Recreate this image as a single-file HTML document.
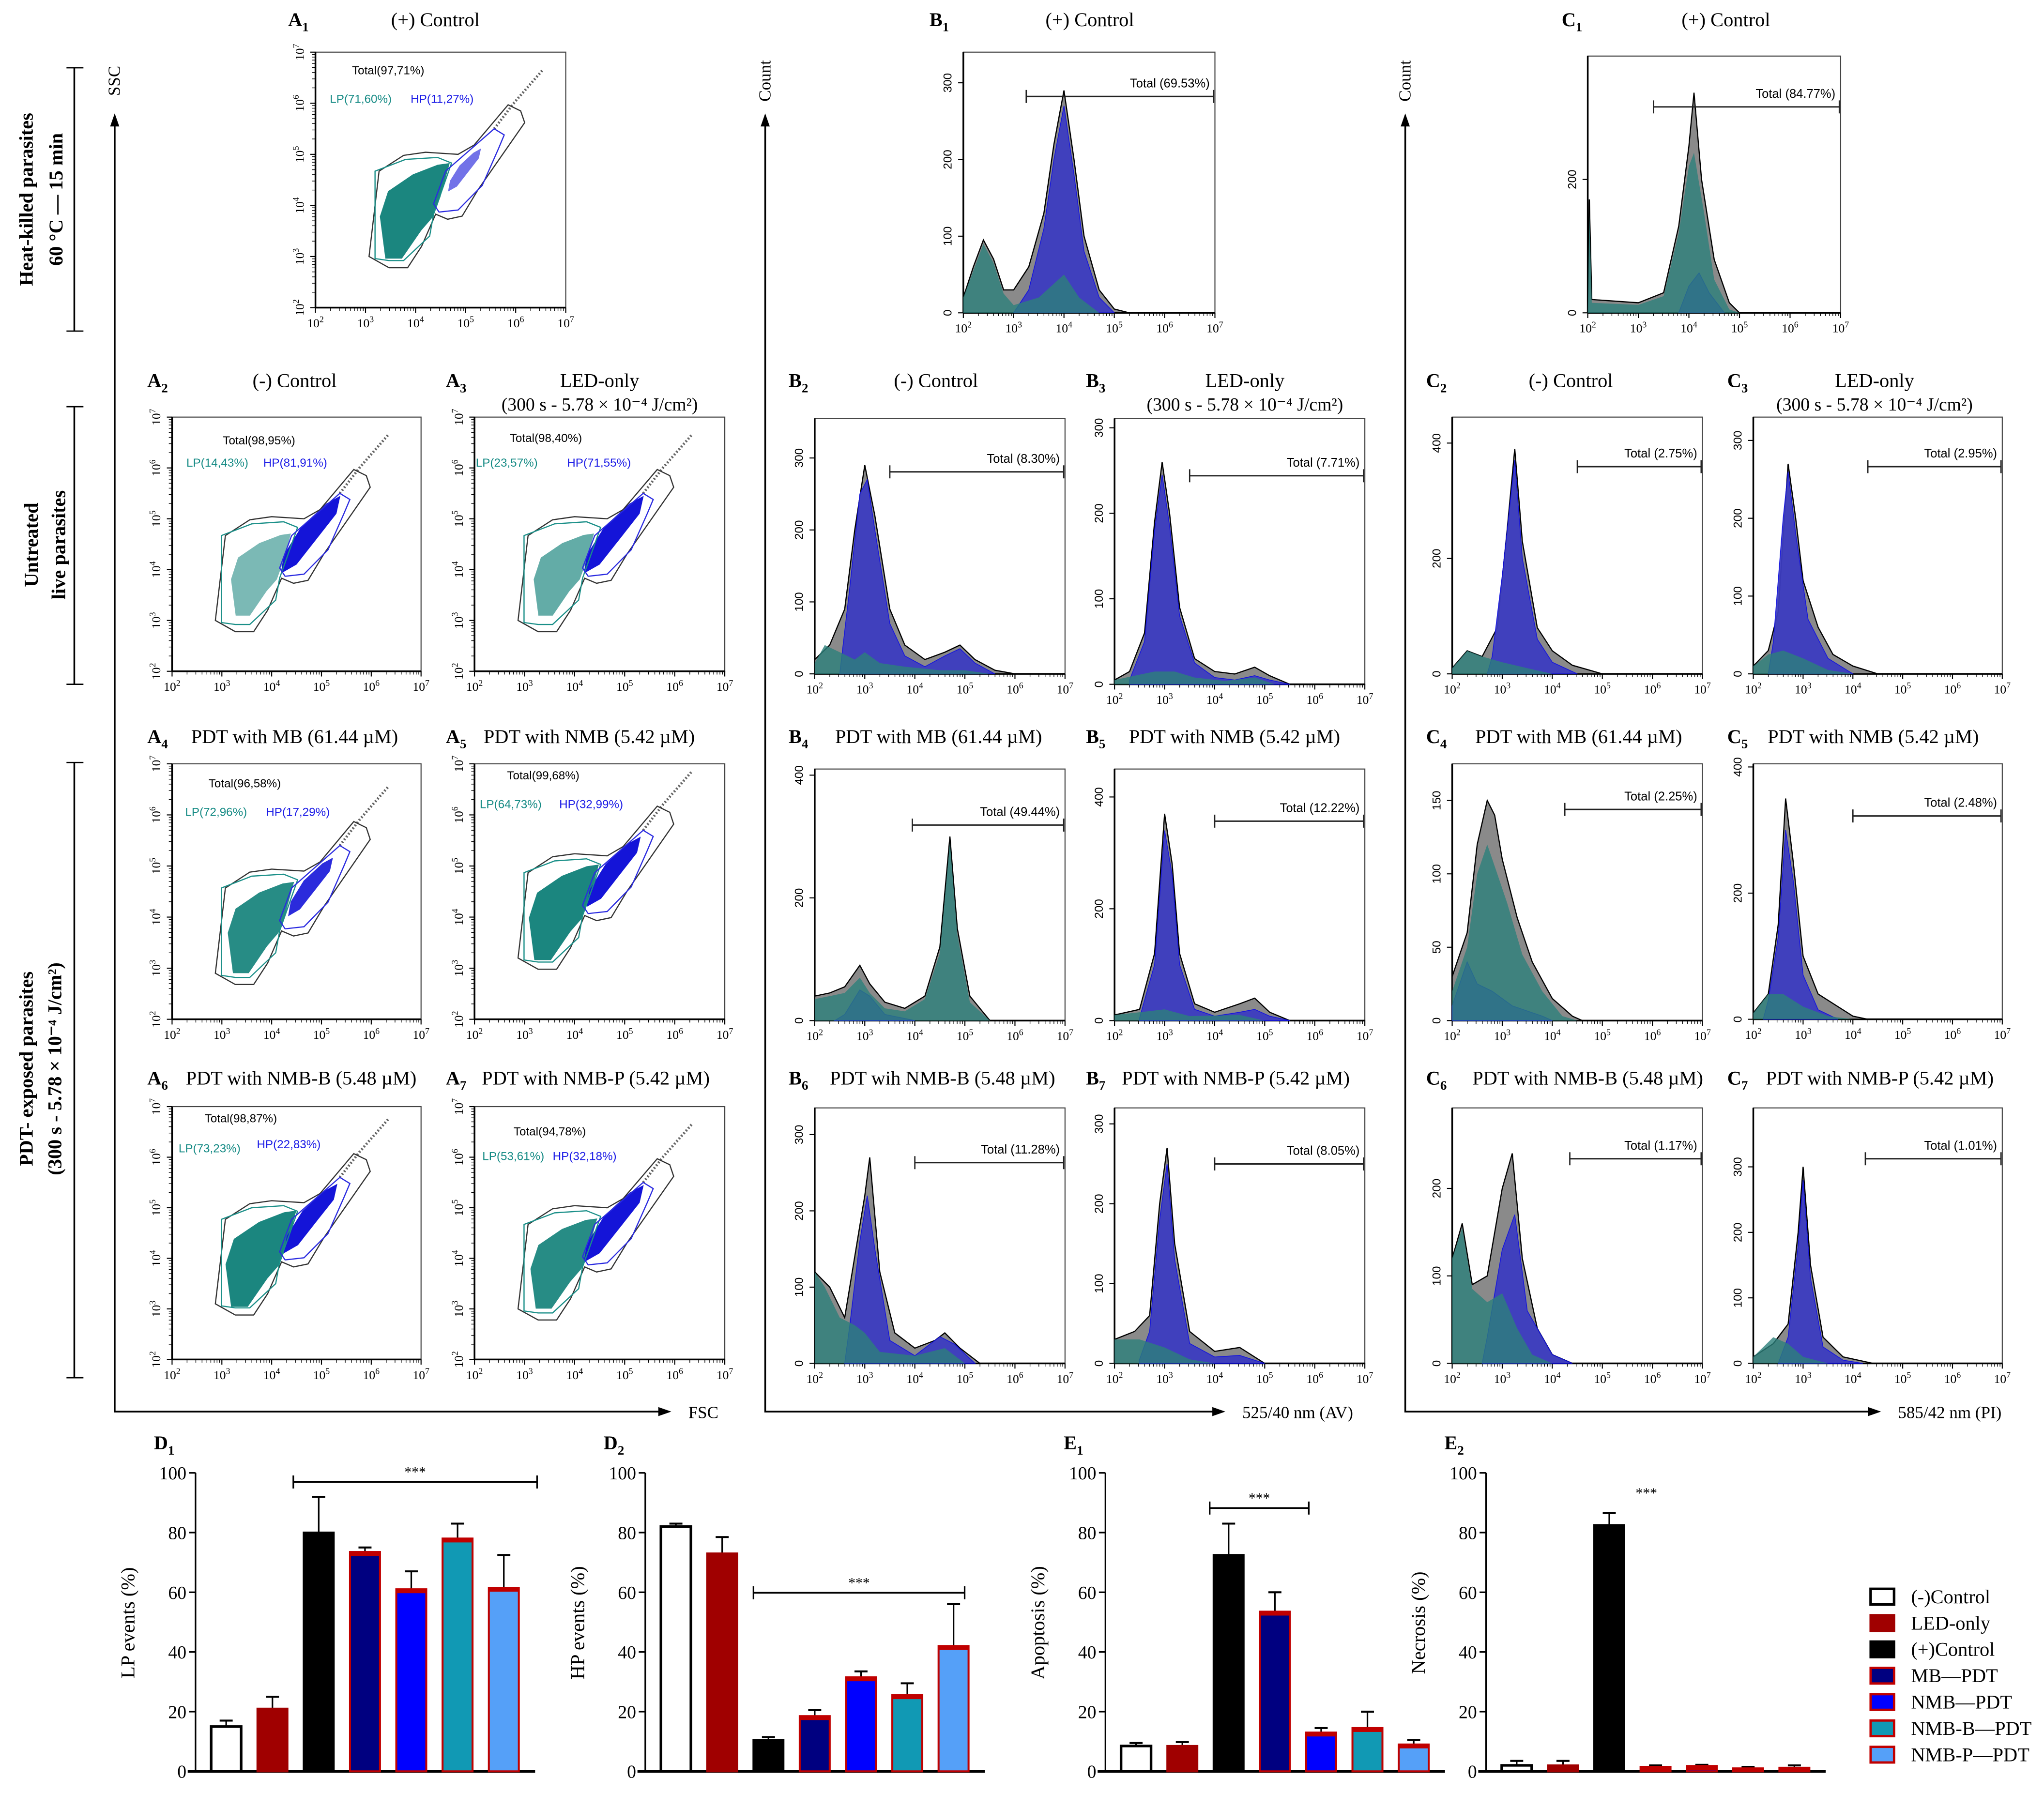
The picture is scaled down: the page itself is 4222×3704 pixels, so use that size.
<!DOCTYPE html>
<html><head><meta charset="utf-8"><style>
html,body{margin:0;padding:0;background:#fff;width:4222px;height:3704px;overflow:hidden}
svg{display:block}
.serif{font-family:"Liberation Serif",serif}
.sans{font-family:"Liberation Sans",sans-serif}
</style></head><body>
<svg id="fig" width="4222" height="3704" viewBox="0 0 1568 1375.6" xmlns="http://www.w3.org/2000/svg">
<rect x="0" y="0" width="1568" height="1376" fill="#fff"/>
</svg>
<script>
// ---------------- DATA ----------------
const barCategories = ["(-)Control","LED-only","(+)Control","MB\u2014PDT","NMB\u2014PDT","NMB-B\u2014PDT","NMB-P\u2014PDT"];
const lpValues = [15,21,80,73.5,61,78,61.5];
const lpErrTop = [17,25,92,75,67,83,72.5];
const hpValues = [82,73,10.5,18.5,31.5,25.5,42];
const hpErrTop = [83,78.5,11.5,20.5,33.5,29.5,56];
const apoValues = [8.5,8.5,72.5,53.5,13,14.5,9];
const apoErrTop = [9.5,9.8,83,60,14.5,20,10.5];
const necValues = [2,2,82.5,1.5,1.8,1,1.2];
const necErrTop = [3.5,3.5,86.5,2,2.2,1.5,2];
const barTicks = [0,20,40,60,80,100];

// histogram series: [log10 value, count]
const hB1g=[[2,20],[2.2,60],[2.4,95],[2.6,70],[2.8,30],[3,30],[3.3,60],[3.6,130],[3.8,220],[4,290],[4.2,200],[4.4,100],[4.7,30],[5,5],[5.3,0]];
const hB1b=[[3,0],[3.3,30],[3.6,110],[3.8,200],[4,270],[4.2,180],[4.4,80],[4.7,20],[5,0]];
const hB1t=[[2,20],[2.2,55],[2.4,90],[2.6,65],[2.8,25],[3,10],[3.5,20],[4,50],[4.3,20],[4.7,0]];
const hB2g=[[2,20],[2.3,40],[2.6,90],[2.8,200],[3,290],[3.2,220],[3.5,90],[3.8,40],[4.2,20],[4.6,30],[4.9,40],[5.2,20],[5.6,5],[6,0]];
const hB2b=[[2.5,0],[2.7,120],[2.9,250],[3.05,270],[3.2,200],[3.5,70],[3.8,25],[4.2,10],[4.6,25],[4.9,35],[5.2,15],[5.6,0]];
const hB2t=[[2,15],[2.2,40],[2.5,30],[2.8,20],[3,30],[3.3,15],[3.8,10],[4.5,5],[5,5],[5.5,0]];
const hB3g=[[2,5],[2.3,15],[2.6,60],[2.8,190],[2.95,260],[3.1,200],[3.3,90],[3.6,30],[4,15],[4.4,12],[4.8,20],[5.1,10],[5.5,0]];
const hB3b=[[2.3,5],[2.6,50],[2.8,180],[2.95,245],[3.1,185],[3.3,80],[3.6,25],[4,8],[4.4,5],[4.8,10],[5.1,5],[5.5,0]];
const hB3t=[[2,5],[2.4,10],[2.8,15],[3.2,15],[3.6,8],[4.2,4],[4.8,8],[5.2,0]];
const hB4g=[[2,40],[2.3,45],[2.6,55],[2.9,90],[3.1,60],[3.4,30],[3.8,20],[4.2,40],[4.5,120],[4.7,300],[4.85,150],[5.1,40],[5.5,0]];
const hB4t=[[2,35],[2.3,40],[2.6,45],[2.9,70],[3.1,45],[3.4,20],[3.8,15],[4.2,35],[4.5,110],[4.7,290],[4.85,140],[5.1,30],[5.5,0]];
const hB4b=[[2.4,0],[2.6,10],[2.9,50],[3.1,40],[3.4,10],[4,0]];
const hB5g=[[2,10],[2.5,20],[2.8,120],[3,370],[3.15,280],[3.3,120],[3.6,30],[4,15],[4.5,30],[4.8,40],[5.1,15],[5.5,0]];
const hB5b=[[2.5,5],[2.8,100],[3,340],[3.15,260],[3.3,100],[3.6,20],[4,8],[4.5,15],[4.8,20],[5.1,8],[5.5,0]];
const hB5t=[[2,10],[2.5,15],[3,20],[3.5,8],[4.5,10],[5,0]];
const hB6g=[[2,120],[2.3,100],[2.6,60],[2.8,140],[3,220],[3.1,270],[3.3,120],[3.6,40],[4,20],[4.4,30],[4.6,40],[4.9,20],[5.3,0]];
const hB6b=[[2.6,0],[2.7,50],[2.9,160],[3.05,220],[3.2,150],[3.5,30],[4,10],[4.5,35],[4.8,25],[5.2,0]];
const hB6t=[[2,120],[2.2,100],[2.5,60],[2.8,50],[3,40],[3.3,15],[4,10],[4.6,20],[5,0]];
const hB7g=[[2,30],[2.4,40],[2.7,60],[2.9,200],[3.05,270],[3.2,150],[3.5,40],[4,15],[4.5,20],[5,0]];
const hB7b=[[2.5,5],[2.7,40],[2.9,180],[3.05,250],[3.2,130],[3.5,25],[4,8],[4.5,10],[5,0]];
const hB7t=[[2,30],[2.5,30],[3,20],[3.5,5],[4,0]];
const hC1g=[[2,0],[2.03,170],[2.08,20],[3,15],[3.5,30],[3.8,130],[4,250],[4.1,330],[4.25,200],[4.5,80],[4.8,15],[5,0]];
const hC1t=[[2,0],[2.03,150],[2.08,15],[3,12],[3.5,25],[3.8,120],[4,220],[4.1,240],[4.3,150],[4.5,50],[4.8,5],[5,0]];
const hC1b=[[3.8,0],[4,40],[4.2,60],[4.4,30],[4.7,0]];
const hC2g=[[2,10],[2.3,40],[2.6,30],[2.9,80],[3.1,250],[3.25,390],[3.4,230],[3.7,80],[4,40],[4.4,15],[5,0]];
const hC2b=[[2.7,0],[2.8,30],[3,170],[3.25,370],[3.4,200],[3.7,60],[4,20],[4.5,0]];
const hC2t=[[2,10],[2.3,40],[2.6,30],[3,20],[3.5,10],[4,0]];
const hC3g=[[2,10],[2.3,30],[2.5,80],[2.7,270],[2.85,200],[3,120],[3.3,60],[3.6,25],[4,10],[4.5,0]];
const hC3b=[[2.3,0],[2.4,40],[2.6,200],[2.7,260],[2.85,180],[3.1,70],[3.5,20],[4,0]];
const hC3t=[[2,10],[2.3,25],[2.6,30],[3,20],[3.5,5],[4,0]];
const hC4g=[[2,30],[2.3,60],[2.5,120],[2.7,150],[2.85,140],[3,110],[3.3,70],[3.6,40],[4,15],[4.4,3],[4.6,0]];
const hC4t=[[2,20],[2.3,50],[2.5,100],[2.7,120],[2.9,100],[3.1,80],[3.4,45],[3.8,20],[4.2,3],[4.5,0]];
const hC4b=[[2,10],[2.3,40],[2.5,25],[2.8,20],[3.2,10],[3.8,3],[4,0]];
const hC5g=[[2,10],[2.3,40],[2.5,150],[2.65,350],[2.8,250],[3,100],[3.3,40],[3.7,20],[4,5],[4.3,0]];
const hC5b=[[2.2,0],[2.3,30],[2.5,130],[2.65,300],[2.8,220],[3,70],[3.3,15],[3.7,0]];
const hC5t=[[2,10],[2.3,40],[2.6,40],[3,20],[3.5,5],[4,0]];
const hC6g=[[2,120],[2.2,160],[2.4,90],[2.7,100],[3,200],[3.2,240],[3.4,120],[3.7,40],[4,10],[4.4,0]];
const hC6b=[[2.6,0],[2.7,30],[3,130],[3.25,170],[3.5,60],[4,10],[4.4,0]];
const hC6t=[[2,120],[2.2,155],[2.4,85],[2.7,70],[3,80],[3.3,40],[3.6,10],[4,0]];
const hC7g=[[2,10],[2.4,30],[2.7,60],[2.9,200],[3,300],[3.15,150],[3.4,40],[3.8,10],[4.4,0]];
const hC7b=[[2.5,0],[2.7,40],[2.9,180],[3,280],[3.15,130],[3.4,25],[3.8,5],[4.2,0]];
const hC7t=[[2,10],[2.4,40],[2.7,30],[3,10],[3.5,0]];

// ---------------- HELPERS ----------------
const NS="http://www.w3.org/2000/svg";
const fig=document.getElementById('fig');
function el(tag,attrs,parent){const e=document.createElementNS(NS,tag);for(const k in attrs)e.setAttribute(k,attrs[k]);(parent||fig).appendChild(e);return e;}
function txt(x,y,s,size,opts,parent){opts=opts||{};const t=el('text',{x:x,y:y,'font-size':size,'text-anchor':opts.anchor||'start',fill:opts.fill||'#000','font-weight':opts.bold?'bold':'normal',class:opts.cls||'serif'},parent);if(opts.rot)t.setAttribute('transform','rotate('+opts.rot+' '+x+' '+y+')');t.textContent=s;return t;}
function pow10(x,y,e,size,anchor,parent,rot){const t=el('text',{x:x,y:y,'font-size':size,'text-anchor':anchor||'middle',class:'serif'},parent);if(rot)t.setAttribute('transform','rotate('+rot+' '+x+' '+y+')');t.appendChild(document.createTextNode('10'));const s=el('tspan',{dy:-size*0.4,'font-size':size*0.7},t);s.textContent=e;return t;}
function panelLabel(x,y,letter,sub,parent){const t=el('text',{x:x,y:y,'font-size':15,'font-weight':'bold',class:'serif'},parent);t.appendChild(document.createTextNode(letter));const s=el('tspan',{dy:4,'font-size':10},t);s.textContent=sub;return t;}
function logX(box,d){return box.x+(d-2)/5*box.w;}
function xLogAxis(box,g){
  el('line',{x1:box.x,y1:box.y+box.h,x2:box.x+box.w,y2:box.y+box.h,stroke:'#000','stroke-width':1.3},g);
  for(let d=2;d<=7;d++){const x=logX(box,d);el('line',{x1:x,y1:box.y+box.h,x2:x,y2:box.y+box.h+4,stroke:'#000','stroke-width':0.8},g);pow10(x,box.y+box.h+15,String(d),9.5,'middle',g);
    if(d<7)for(let m=2;m<10;m++){const xm=box.x+((d-2)+Math.log10(m))/5*box.w;el('line',{x1:xm,y1:box.y+box.h,x2:xm,y2:box.y+box.h+2.5,stroke:'#000','stroke-width':0.5},g);}}
}
function boxFrame(box,g){el('rect',{x:box.x,y:box.y,width:box.w,height:box.h,fill:'none',stroke:'#444','stroke-width':0.8},g);el('line',{x1:box.x,y1:box.y,x2:box.x,y2:box.y+box.h,stroke:'#000','stroke-width':1.3},g);}

// ---------------- SCATTER PANELS ----------------
const outerGate=[[0.87,1.0],[1.07,2.67],[1.56,2.98],[2.0,3.04],[2.65,3.0],[2.97,3.18],[3.65,3.97],[3.9,3.85],[3.98,3.62],[3.05,2.31],[2.73,1.79],[2.44,1.73],[2.2,1.83],[1.92,1.2],[1.64,0.78],[1.27,0.78]];
const tealGate=[[0.99,0.96],[0.99,2.67],[1.6,2.9],[2.24,2.94],[2.52,2.83],[2.16,1.83],[2.08,1.4],[1.56,0.92],[1.27,0.92]];
const blueGate=[[2.16,2.03],[2.4,2.67],[3.37,3.5],[3.57,3.38],[3.45,3.1],[3.13,2.39],[2.65,1.91],[2.27,1.87]];
const tealCloud=[[1.25,1.05],[1.15,1.8],[1.3,2.25],[1.75,2.55],[2.2,2.72],[2.42,2.75],[2.25,2.15],[2.12,1.8],[1.9,1.55],[1.55,1.05]];
const blueCloud=[[2.18,1.92],[2.25,2.3],[2.6,2.85],[3.1,3.3],[3.38,3.45],[3.3,3.1],[2.9,2.6],[2.5,2.1]];
const blackTail=[[3.37,3.5],[3.77,4.01],[4.34,4.65]];
function poly(box,pts,du,dv,s){
  let cx=0,cy=0;pts.forEach(p=>{cx+=p[0];cy+=p[1];});cx/=pts.length;cy/=pts.length;s=s||1;
  return pts.map(p=>{const u=cx+(p[0]-cx)*s+du,v=cy+(p[1]-cy)*s+dv;return (box.x+u/5*box.w).toFixed(1)+','+(box.y+box.h-v/5*box.h).toFixed(1);}).join(' ');}

const scatterPanels=[
 {id:'a1',box:{x:242,y:40,w:192,h:196},lab:['A','1'],labXY:[221,20],title:['(+) Control'],tx:334,total:'Total(97,71%)',tot:[270,57],lp:'LP(71,60%)',lpXY:[253,79],hp:'HP(11,27%)',hpXY:[315,79],du:0.2,dv:0,ts:1.1,to:0.95,bs:0.55,bo:0.6},
 {id:'a2',box:{x:132,y:320,w:191,h:195},lab:['A','2'],labXY:[113,297],title:['(-) Control'],tx:226,total:'Total(98,95%)',tot:[171,341],lp:'LP(14,43%)',lpXY:[143,358],hp:'HP(81,91%)',hpXY:[202,358],du:0,dv:0,ts:0.95,to:0.55,bs:1,bo:1},
 {id:'a3',box:{x:364,y:320,w:192,h:195},lab:['A','3'],labXY:[342,297],title:['LED-only','(300 s - 5.78 \u00d7 10\u207b\u2074 J/cm\u00b2)'],tx:460,total:'Total(98,40%)',tot:[391,339],lp:'LP(23,57%)',lpXY:[365,358],hp:'HP(71,55%)',hpXY:[435,358],du:0,dv:0,ts:0.95,to:0.65,bs:1,bo:1},
 {id:'a4',box:{x:132,y:586,w:191,h:196},lab:['A','4'],labXY:[113,570],title:['PDT with MB (61.44 \u00b5M)'],tx:226,total:'Total(96,58%)',tot:[160,604],lp:'LP(72,96%)',lpXY:[142,626],hp:'HP(17,29%)',hpXY:[204,626],du:0,dv:-0.1,ts:1.05,to:0.9,bs:0.75,bo:0.9},
 {id:'a5',box:{x:364,y:586,w:192,h:196},lab:['A','5'],labXY:[342,570],title:['PDT with NMB (5.42 \u00b5M)'],tx:452,total:'Total(99,68%)',tot:[389,598],lp:'LP(64,73%)',lpXY:[368,620],hp:'HP(32,99%)',hpXY:[429,620],du:0,dv:0.2,ts:1.1,to:0.95,bs:0.9,bo:1},
 {id:'a6',box:{x:132,y:849,w:191,h:194},lab:['A','6'],labXY:[113,832],title:['PDT with NMB-B (5.48 \u00b5M)'],tx:231,total:'Total(98,87%)',tot:[157,861],lp:'LP(73,23%)',lpXY:[137,884],hp:'HP(22,83%)',hpXY:[197,881],du:0,dv:0.1,ts:1.12,to:0.95,bs:0.9,bo:1},
 {id:'a7',box:{x:364,y:849,w:192,h:194},lab:['A','7'],labXY:[342,832],title:['PDT with NMB-P (5.42 \u00b5M)'],tx:457,total:'Total(94,78%)',tot:[394,871],lp:'LP(53,61%)',lpXY:[370,890],hp:'HP(32,18%)',hpXY:[424,890],du:0,dv:0,ts:1.05,to:0.9,bs:1,bo:1}
];
scatterPanels.forEach(p=>{
  const g=el('g',{});
  
  
  const b=p.box;
  boxFrame(b,g);
  for(let d=2;d<=7;d++){const y=b.y+b.h-(d-2)/5*b.h;el('line',{x1:b.x-4,y1:y,x2:b.x,y2:y,stroke:'#000','stroke-width':0.8},g);pow10(b.x-9,y,String(d),9.5,'middle',g,-90);
    if(d<7)for(let m=2;m<10;m++){const ym=b.y+b.h-((d-2)+Math.log10(m))/5*b.h;el('line',{x1:b.x-2.5,y1:ym,x2:b.x,y2:ym,stroke:'#000','stroke-width':0.5},g);}}
  xLogAxis(b,g);
  const tc=el('polygon',{points:poly(b,tealCloud,p.du,p.dv,p.ts),fill:'#0f7f78',opacity:p.to},g);
  
  
  const bc=el('polygon',{points:poly(b,blueCloud,p.du,p.dv,p.bs),fill:'#1414d8',opacity:p.bo},g);
  
  
  el('polyline',{points:poly(b,blackTail,p.du,p.dv,1),fill:'none',stroke:'#222','stroke-width':2,'stroke-dasharray':'1.2 1.5',opacity:0.7},g);
  el('polygon',{points:poly(b,outerGate,p.du,p.dv,1),fill:'none',stroke:'#333','stroke-width':0.9},g);
  el('polygon',{points:poly(b,tealGate,p.du,p.dv,1),fill:'none',stroke:'#1a8f88','stroke-width':0.9},g);
  el('polygon',{points:poly(b,blueGate,p.du,p.dv,1),fill:'none',stroke:'#2a2ae0','stroke-width':0.9},g);
  txt(p.tot[0],p.tot[1],p.total,9,{cls:'sans'},g);
  txt(p.lpXY[0],p.lpXY[1],p.lp,9,{cls:'sans',fill:'#148a84'},g);
  txt(p.hpXY[0],p.hpXY[1],p.hp,9,{cls:'sans',fill:'#1a1ae6'},g);
  panelLabel(p.labXY[0],p.labXY[1],p.lab[0],p.lab[1],g);
  txt(p.tx,p.labXY[1],p.title[0],15,{anchor:'middle'},g);
  if(p.title[1])txt(p.tx,p.labXY[1]+18,p.title[1],14,{anchor:'middle'},g);
});

// ---------------- HISTOGRAM PANELS ----------------
const histPanels=[
 {id:'b1',box:{x:739,y:40,w:193,h:200},ymax:340,ticks:[100,200,300],g:hB1g,b:hB1b,t:hB1t,gate:[3.25,7,74],gl:'Total (69.53%)',lab:['B','1'],labXY:[713,20],title:['(+) Control'],tx:836},
 {id:'b2',box:{x:625,y:321,w:192,h:196},ymax:355,ticks:[100,200,300],g:hB2g,b:hB2b,t:hB2t,gate:[3.5,7,362],gl:'Total (8.30%)',lab:['B','2'],labXY:[605,297],title:['(-) Control'],tx:718},
 {id:'b3',box:{x:855,y:321,w:192,h:204},ymax:311,ticks:[100,200,300],g:hB3g,b:hB3b,t:hB3t,gate:[3.5,7,365],gl:'Total (7.71%)',lab:['B','3'],labXY:[833,297],title:['LED-only','(300 s - 5.78 \u00d7 10\u207b\u2074 J/cm\u00b2)'],tx:955},
 {id:'b4',box:{x:625,y:590,w:192,h:193},ymax:410,ticks:[200,400],g:hB4g,b:hB4b,t:hB4t,gate:[3.95,7,633],gl:'Total (49.44%)',lab:['B','4'],labXY:[605,570],title:['PDT with MB (61.44 \u00b5M)'],tx:720},
 {id:'b5',box:{x:855,y:590,w:192,h:193},ymax:450,ticks:[200,400],g:hB5g,b:hB5b,t:hB5t,gate:[4.0,7,630],gl:'Total (12.22%)',lab:['B','5'],labXY:[833,570],title:['PDT with NMB (5.42 \u00b5M)'],tx:947},
 {id:'b6',box:{x:625,y:850,w:192,h:196},ymax:335,ticks:[100,200,300],g:hB6g,b:hB6b,t:hB6t,gate:[4.0,7,892],gl:'Total (11.28%)',lab:['B','6'],labXY:[605,832],title:['PDT wih NMB-B (5.48 \u00b5M)'],tx:723},
 {id:'b7',box:{x:855,y:850,w:192,h:196},ymax:320,ticks:[100,200,300],g:hB7g,b:hB7b,t:hB7t,gate:[4.0,7,893],gl:'Total (8.05%)',lab:['B','7'],labXY:[833,832],title:['PDT with NMB-P (5.42 \u00b5M)'],tx:948},
 {id:'c1',box:{x:1218,y:43,w:194,h:197},ymax:385,ticks:[200],g:hC1g,b:hC1b,t:hC1t,gate:[3.3,7,82],gl:'Total (84.77%)',lab:['C','1'],labXY:[1198,20],title:['(+) Control'],tx:1324},
 {id:'c2',box:{x:1114,y:320,w:192,h:197},ymax:445,ticks:[200,400],g:hC2g,b:hC2b,t:hC2t,gate:[4.5,7,358],gl:'Total (2.75%)',lab:['C','2'],labXY:[1094,297],title:['(-) Control'],tx:1205},
 {id:'c3',box:{x:1345,y:320,w:191,h:197},ymax:330,ticks:[100,200,300],g:hC3g,b:hC3b,t:hC3t,gate:[4.3,7,358],gl:'Total (2.95%)',lab:['C','3'],labXY:[1325,297],title:['LED-only','(300 s - 5.78 \u00d7 10\u207b\u2074 J/cm\u00b2)'],tx:1438},
 {id:'c4',box:{x:1114,y:586,w:192,h:197},ymax:175,ticks:[50,100,150],g:hC4g,b:hC4b,t:hC4t,gate:[4.25,7,621],gl:'Total (2.25%)',lab:['C','4'],labXY:[1094,570],title:['PDT with MB (61.44 \u00b5M)'],tx:1211},
 {id:'c5',box:{x:1345,y:586,w:191,h:196},ymax:405,ticks:[200,400],g:hC5g,b:hC5b,t:hC5t,gate:[4.0,7,626],gl:'Total (2.48%)',lab:['C','5'],labXY:[1325,570],title:['PDT with NMB (5.42 \u00b5M)'],tx:1437},
 {id:'c6',box:{x:1114,y:850,w:192,h:196},ymax:292,ticks:[100,200],g:hC6g,b:hC6b,t:hC6t,gate:[4.35,7,889],gl:'Total (1.17%)',lab:['C','6'],labXY:[1094,832],title:['PDT with NMB-B (5.48 \u00b5M)'],tx:1218},
 {id:'c7',box:{x:1345,y:850,w:191,h:196},ymax:390,ticks:[100,200,300],g:hC7g,b:hC7b,t:hC7t,gate:[4.25,7,889],gl:'Total (1.01%)',lab:['C','7'],labXY:[1325,832],title:['PDT with NMB-P (5.42 \u00b5M)'],tx:1442}
];
function histPath(box,ymax,pts){
  const yb=box.y+box.h;
  let d='M'+logX(box,pts[0][0]).toFixed(1)+','+yb;
  pts.forEach(p=>{d+=' L'+logX(box,p[0]).toFixed(1)+','+(yb-p[1]/ymax*box.h).toFixed(1);});
  d+=' L'+logX(box,pts[pts.length-1][0]).toFixed(1)+','+yb+' Z';return d;
}
histPanels.forEach(p=>{
  const g=el('g',{});
  
  
  const b=p.box;
  boxFrame(b,g);
  const yb=b.y+b.h;
  el('line',{x1:b.x-4,y1:yb,x2:b.x,y2:yb,stroke:'#000','stroke-width':0.8},g);
  txt(b.x-9,yb,'0',9,{anchor:'middle',rot:-90,cls:'sans'},g);
  p.ticks.forEach(v=>{const y=yb-v/p.ymax*b.h;el('line',{x1:b.x-4,y1:y,x2:b.x,y2:y,stroke:'#000','stroke-width':0.8},g);txt(b.x-9,y,String(v),9,{anchor:'middle',rot:-90,cls:'sans'},g);});
  xLogAxis(b,g);
  const gp=el('path',{d:histPath(b,p.ymax,p.g),fill:'#8a8a8a',stroke:'#000','stroke-width':0.9},g);
  
  
  const bp=el('path',{d:histPath(b,p.ymax,p.b),fill:'#3d3dc0',stroke:'#1010e0','stroke-width':0.6,opacity:0.95},g);
  
  
  const tp=el('path',{d:histPath(b,p.ymax,p.t),fill:'#2c7f7a',opacity:0.8},g);
  
  
  const x1=logX(b,p.gate[0]),x2=logX(b,p.gate[1])-1,gy=p.gate[2];
  el('line',{x1:x1,y1:gy,x2:x2,y2:gy,stroke:'#222','stroke-width':1.1},g);
  el('line',{x1:x1,y1:gy-5,x2:x1,y2:gy+5,stroke:'#222','stroke-width':1},g);
  el('line',{x1:x2,y1:gy-5,x2:x2,y2:gy+5,stroke:'#222','stroke-width':1},g);
  txt(x2-3,gy-7,p.gl,9.5,{anchor:'end',cls:'sans'},g);
  panelLabel(p.labXY[0],p.labXY[1],p.lab[0],p.lab[1],g);
  txt(p.tx,p.labXY[1],p.title[0],15,{anchor:'middle'},g);
  if(p.title[1])txt(p.tx,p.labXY[1]+18,p.title[1],14,{anchor:'middle'},g);
});

// ---------------- BIG AXES & ROW LABELS ----------------
function bigAxis(x,xEnd,label,name,ylabel){
  const g=el('g',{});
  
  
  el('polyline',{points:x+',96 '+x+',1083 '+(xEnd-6)+',1083',fill:'none',stroke:'#000','stroke-width':1.3},g);
  el('polygon',{points:(x-3.5)+',97 '+(x+3.5)+',97 '+x+',87',fill:'#000'},g);
  el('polygon',{points:(xEnd-7)+',1079.5 '+(xEnd-7)+',1086.5 '+(xEnd+3)+',1083',fill:'#000'},g);
  txt(xEnd+16,1088,label,13,{},g);
  txt(x+4,62,ylabel,13,{anchor:'middle',rot:-90},g);
}
bigAxis(88,512,'FSC','scatter-master-axes','SSC');
bigAxis(587,937,'525/40 nm (AV)','annexin-master-axes','Count');
bigAxis(1078,1440,'585/42 nm (PI)','pi-master-axes','Count');
function bracket(y1,y2){el('line',{x1:57,y1:y1,x2:57,y2:y2,stroke:'#000','stroke-width':1.3});el('line',{x1:51,y1:y1,x2:64,y2:y1,stroke:'#000','stroke-width':1});el('line',{x1:51,y1:y2,x2:64,y2:y2,stroke:'#000','stroke-width':1});}
bracket(52,254);bracket(312,525);bracket(585,1057);
txt(25,153,'Heat-killed parasites',15,{anchor:'middle',rot:-90,bold:true});
txt(48,153,'60 \u00b0C  \u2014  15 min',15,{anchor:'middle',rot:-90,bold:true});
txt(29,418,'Untreated',15,{anchor:'middle',rot:-90,bold:true});
txt(50,418,'live parasites',15,{anchor:'middle',rot:-90,bold:true});
txt(25,820,'PDT- exposed parasites',15,{anchor:'middle',rot:-90,bold:true});
txt(47,820,'(300 s - 5.78 \u00d7 10\u207b\u2074 J/cm\u00b2)',15,{anchor:'middle',rot:-90,bold:true});

// ---------------- BAR CHARTS ----------------
const barFills=['#ffffff','#a00000','#000000','#000080','#0000ff','#1199b4','#55a0f8'];
const barStrokes=['#000','#a00000','#000','#c00000','#c00000','#c00000','#c00000'];
function barChart(cfg){
  const g=el('g',{});
  
  
  const y0=1359,y100=1130;
  const yS=v=>y0-(v/100)*(y0-y100);
  el('line',{x1:cfg.axisX,y1:y100,x2:cfg.axisX,y2:y0,stroke:'#000','stroke-width':1.2},g);
  el('line',{x1:cfg.axisX-6,y1:y0,x2:cfg.axisX+cfg.n*35.5+12,y2:y0,stroke:'#000','stroke-width':2},g);
  barTicks.forEach(t=>{const y=yS(t);el('line',{x1:cfg.axisX-5,y1:y,x2:cfg.axisX,y2:y,stroke:'#000','stroke-width':1.2},g);txt(cfg.axisX-7,y+5,String(t),14,{anchor:'end'},g);});
  txt(cfg.axisX-47,1245,cfg.ylabel,15,{anchor:'middle',rot:-90},g);
  panelLabel(cfg.axisX-32,1112,cfg.lab[0],cfg.lab[1],g);
  cfg.values.forEach((v,i)=>{
    const x=cfg.axisX+12+i*35.5,w=23,yt=yS(v),ye=yS(cfg.err[i]);
    el('line',{x1:x+w/2,y1:ye,x2:x+w/2,y2:yt,stroke:'#000','stroke-width':1.2},g);
    el('line',{x1:x+w/2-5,y1:ye,x2:x+w/2+5,y2:ye,stroke:'#000','stroke-width':1.5},g);
    const r=el('rect',{x:x,y:yt,width:w,height:y0-yt,fill:barFills[i],stroke:barStrokes[i],'stroke-width':i===0?2:1.5},g);
    
    
    if(i>=3)el('rect',{x:x,y:yt,width:w,height:Math.min(3,y0-yt),fill:'#c00000'},g);
  });
  if(cfg.sig){const s=cfg.sig;el('line',{x1:s[0],y1:s[2],x2:s[1],y2:s[2],stroke:'#000','stroke-width':1.3},g);el('line',{x1:s[0],y1:s[2]-5,x2:s[0],y2:s[2]+5,stroke:'#000','stroke-width':1.2},g);el('line',{x1:s[1],y1:s[2]-5,x2:s[1],y2:s[2]+5,stroke:'#000','stroke-width':1.2},g);txt((s[0]+s[1])/2,s[2]-4,'***',11,{anchor:'middle'},g);}
  else if(cfg.star){txt(cfg.star[0],cfg.star[1],'***',11,{anchor:'middle'},g);}
}
barChart({name:'lp-events-chart',axisX:150,n:7,values:lpValues,err:lpErrTop,ylabel:'LP events (%)',lab:['D','1'],sig:[225,412,1137]});
barChart({name:'hp-events-chart',axisX:495,n:7,values:hpValues,err:hpErrTop,ylabel:'HP events (%)',lab:['D','2'],sig:[578,740,1222]});
barChart({name:'apoptosis-chart',axisX:848,n:7,values:apoValues,err:apoErrTop,ylabel:'Apoptosis (%)',lab:['E','1'],sig:[928,1004,1157]});
barChart({name:'necrosis-chart',axisX:1140,n:7,values:necValues,err:necErrTop,ylabel:'Necrosis (%)',lab:['E','2'],star:[1263,1149]});

// legend
const lg=el('g',{});


barCategories.forEach((c,i)=>{
  const y=1219+i*20.2;
  const r=el('rect',{x:1435,y:y,width:18,height:12,fill:barFills[i],stroke:barStrokes[i],'stroke-width':i===0?2:1.8},lg);
  
  
  txt(1466,y+11,c,15,{},lg);
});
</script>
</body></html>
